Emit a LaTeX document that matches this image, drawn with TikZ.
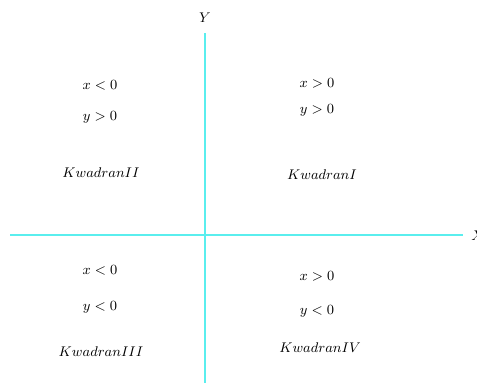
\documentclass[tikz,border=0pt]{standalone}
\usepackage{tikz}
\usetikzlibrary{positioning}
\definecolor{axcyan}{RGB}{90,238,238}

\begin{document}
\begin{tikzpicture}[x=0.0225cm, y=-0.0225cm,
  axis/.style={axcyan, line width=1.6pt},
  lbl/.style={font=\small, inner sep=0pt}
]
\useasboundingbox (0,0) rectangle (477,385);
% axes
\coordinate (xl) at (10,235);
\coordinate (xr) at (463,235);
\coordinate (yt) at (205,33);
\coordinate (yb) at (205,383);
\draw[axis] (xl) -- (xr);
\draw[axis] (yt) -- (yb);
\node[lbl] (ylab) at (205,18) {$Y$};
\node[lbl] (xlab) at (478,236) {$X$};
% kwadran I
\node[lbl] (q1x) at (317,83) {$x>0$};
\node[lbl] (q1y) at (317,110) {$y>0$};
\node[lbl] (q1)  at (322,175) {$KwadranI$};
% kwadran II
\node[lbl] (q2x) at (100,85) {$x<0$};
\node[lbl] (q2y) at (100,117) {$y>0$};
\node[lbl] (q2)  at (101,173) {$KwadranII$};
% kwadran III
\node[lbl] (q3x) at (100,270) {$x<0$};
\node[lbl] (q3y) at (100,307) {$y<0$};
\node[lbl] (q3)  at (101,352) {$KwadranIII$};
% kwadran IV
\node[lbl] (q4x) at (317,276) {$x>0$};
\node[lbl] (q4y) at (317,311) {$y<0$};
\node[lbl] (q4)  at (320,348) {$KwadranIV$};
\end{tikzpicture}
\end{document}
